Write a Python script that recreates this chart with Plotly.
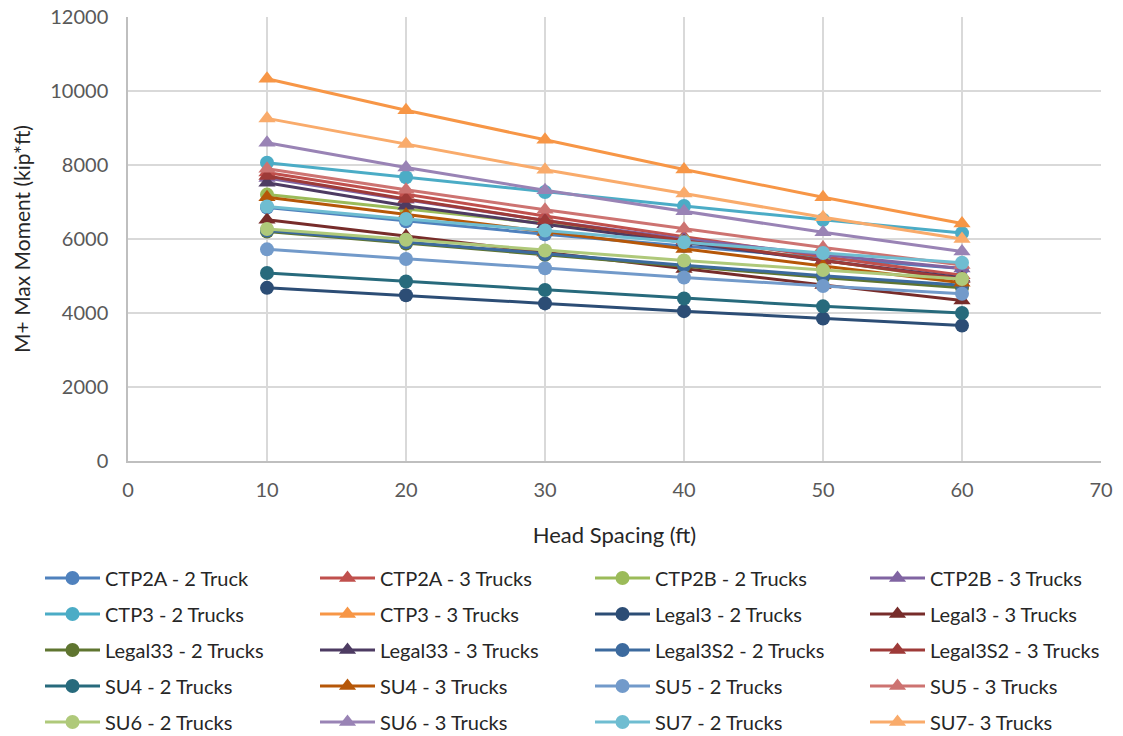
import plotly.graph_objects as go

head_spacing = [10, 20, 30, 40, 50, 60]

series_names = [
    "CTP2A - 2 Truck", "CTP2A - 3 Trucks", "CTP2B - 2 Trucks", "CTP2B - 3 Trucks",
    "CTP3 - 2 Trucks", "CTP3 - 3 Trucks", "Legal3 - 2 Trucks", "Legal3 - 3 Trucks",
    "Legal33 - 2 Trucks", "Legal33 - 3 Trucks", "Legal3S2 - 2 Trucks", "Legal3S2 - 3 Trucks",
    "SU4 - 2 Trucks", "SU4 - 3 Trucks", "SU5 - 2 Trucks", "SU5 - 3 Trucks",
    "SU6 - 2 Trucks", "SU6 - 3 Trucks", "SU7 - 2 Trucks", "SU7- 3 Trucks",
]

ctp2a_2 = [6850, 6480, 6130, 5810, 5490, 5200]
ctp2a_3 = [7800, 7200, 6620, 6060, 5520, 5020]
ctp2b_2 = [7200, 6820, 6420, 5950, 5420, 4900]
ctp2b_3 = [7650, 7060, 6500, 6000, 5580, 5200]
ctp3_2 = [8060, 7670, 7270, 6890, 6520, 6160]
ctp3_3 = [10330, 9480, 8680, 7880, 7130, 6420]
legal3_2 = [4680, 4480, 4260, 4050, 3850, 3660]
legal3_3 = [6520, 6080, 5630, 5190, 4760, 4340]
legal33_2 = [6200, 5880, 5570, 5260, 4960, 4680]
legal33_3 = [7520, 6900, 6400, 5900, 5420, 4950]
legal3s2_2 = [6230, 5910, 5590, 5290, 5010, 4750]
legal3s2_3 = [7700, 7080, 6500, 5950, 5420, 4920]
su4_2 = [5080, 4850, 4620, 4390, 4180, 4000]
su4_3 = [7130, 6660, 6190, 5730, 5270, 4820]
su5_2 = [5720, 5460, 5210, 4960, 4730, 4520]
su5_3 = [7900, 7330, 6790, 6280, 5770, 5300]
su6_2 = [6270, 5980, 5690, 5420, 5160, 4920]
su6_3 = [8600, 7930, 7320, 6750, 6180, 5660]
su7_2 = [6880, 6540, 6230, 5910, 5620, 5360]
su7_3 = [9260, 8570, 7870, 7230, 6590, 6000]

series_values = [
    ctp2a_2, ctp2a_3, ctp2b_2, ctp2b_3, ctp3_2, ctp3_3, legal3_2, legal3_3,
    legal33_2, legal33_3, legal3s2_2, legal3s2_3, su4_2, su4_3, su5_2, su5_3,
    su6_2, su6_3, su7_2, su7_3,
]

colors = [
    "#4F81BD", "#C0504D", "#9BBB59", "#8064A2",
    "#4BACC6", "#F79646", "#2C4D75", "#772C2A",
    "#5F7530", "#4D3B62", "#3C6A9E", "#9E3A38",
    "#276A7C", "#B65708", "#729ACA", "#CD7371",
    "#AFC97A", "#9983B5", "#6FBDD1", "#F9AB6B",
]

font_family = "Lato, Open Sans, sans-serif"
legend_font = dict(family=font_family, size=20, color="#262626")

fig = go.Figure()
for i, (name, vals, col) in enumerate(zip(series_names, series_values, colors)):
    sym = "circle" if i % 2 == 0 else "triangle-up"
    row = i // 4
    fig.add_trace(go.Scatter(
        x=head_spacing, y=vals, name=name, mode="lines+markers",
        line=dict(color=col, width=3),
        marker=dict(symbol=sym, size=14 if sym == "circle" else 15, color=col),
        legend="legend" if row == 0 else f"legend{row + 1}",
    ))

plot_top, plot_bottom = 17, 461
plot_h = plot_bottom - plot_top
row_centers = [578, 614, 650, 686, 722]
legend_x = (40 - 128) / 973

legend_layouts = {}
for r, py in enumerate(row_centers):
    key = "legend" if r == 0 else f"legend{r + 1}"
    legend_layouts[key] = dict(
        orientation="h", x=legend_x, xanchor="left",
        y=(plot_bottom - py) / plot_h, yanchor="middle",
        entrywidth=205, entrywidthmode="pixels",
        font=legend_font, itemwidth=55, bgcolor="rgba(0,0,0,0)",
    )

fig.update_layout(
    width=1123, height=736,
    margin=dict(l=128, r=22, t=plot_top, b=736 - plot_bottom, autoexpand=False),
    paper_bgcolor="white", plot_bgcolor="white",
    font=dict(family=font_family, size=20, color="#595959"),
    showlegend=True,
    **legend_layouts,
    xaxis=dict(
        range=[0, 70], dtick=10, showgrid=True, gridcolor="#D9D9D9", gridwidth=1.5,
        zeroline=False, showline=True, linecolor="#BFBFBF", linewidth=1.5,
        ticks="", ticklabelstandoff=10,
        title=dict(text="Head Spacing (ft)", font=dict(size=22, color="#262626"), standoff=28),
        tickfont=dict(size=20, color="#595959"),
    ),
    yaxis=dict(
        range=[0, 12000], dtick=2000, tickformat="d", showgrid=True, gridcolor="#D9D9D9", gridwidth=1.5,
        zeroline=False, showline=True, linecolor="#BFBFBF", linewidth=1.5,
        ticks="", ticklabelstandoff=14,
        title=dict(text="M+ Max Moment (kip*ft)", font=dict(size=21, color="#262626"), standoff=14),
        tickfont=dict(size=20, color="#595959"),
    ),
)

fig.write_html("out.html")
